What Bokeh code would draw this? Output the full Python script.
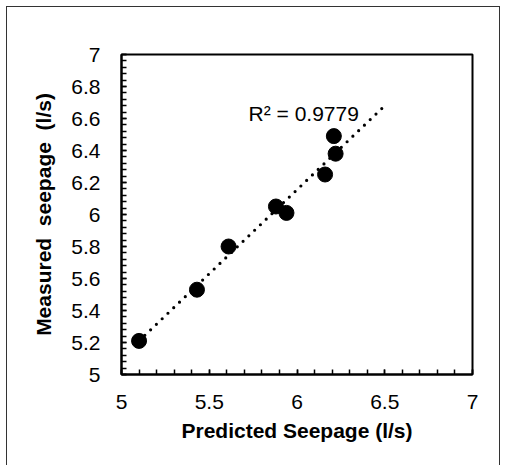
from bokeh.plotting import figure
from bokeh.models import Range1d, SingleIntervalTicker, Label
from bokeh.embed import file_html
from bokeh.resources import INLINE

# data
predicted = [5.10, 5.43, 5.61, 5.88, 5.94, 6.16, 6.22, 6.21]
measured = [5.21, 5.53, 5.80, 6.05, 6.01, 6.25, 6.38, 6.49]
trend_x = [5.10, 6.50]
trend_y = [5.21, 6.68]
r2_text = "R² = 0.9779"
x_label = "Predicted Seepage (l/s)"
y_label = "Measured \u00a0seepage \u00a0(l/s)"

FONT = "Liberation Sans"
FS = "21px"

p = figure(width=494, height=459, output_backend="svg", toolbar_location=None,
           x_range=Range1d(5, 7), y_range=Range1d(5, 7),
           min_border_left=114, min_border_top=47, min_border_right=29, min_border_bottom=92)
p.styles = {"border": "1.5px solid #333333", "border-bottom": "none",
            "margin-left": "6px", "margin-top": "6px"}
p.grid.visible = False
p.outline_line_color = "black"
p.outline_line_width = 2
p.background_fill_color = "white"
p.border_fill_color = "white"

p.line(trend_x, trend_y, line_color="black", line_width=3.2, line_dash="0 8", line_cap="round")
p.scatter(predicted, measured, size=15, color="black")

p.xaxis.ticker = SingleIntervalTicker(interval=0.5, num_minor_ticks=5)
p.yaxis.ticker = SingleIntervalTicker(interval=0.2, num_minor_ticks=5)

for ax in (p.xaxis[0], p.yaxis[0]):
    ax.axis_line_color = "black"
    ax.axis_line_width = 2
    ax.major_tick_in = 5
    ax.major_tick_out = 0
    ax.minor_tick_in = 5
    ax.minor_tick_out = 0
    ax.major_tick_line_width = 1.5
    ax.minor_tick_line_width = 1.5
    ax.major_tick_line_color = "black"
    ax.minor_tick_line_color = "black"
    ax.major_label_text_font = FONT
    ax.major_label_text_font_size = FS
    ax.major_label_text_color = "black"
    ax.axis_label_text_font = FONT
    ax.axis_label_text_font_size = FS
    ax.axis_label_text_font_style = "bold"
    ax.axis_label_text_color = "black"

p.xaxis.axis_label = x_label
p.yaxis.axis_label = y_label
p.xaxis.major_label_standoff = 20
p.yaxis.major_label_standoff = 21
p.xaxis.axis_label_standoff = 7
p.yaxis.axis_label_standoff = 13

p.add_layout(Label(x=5.724, y=6.633, text=r2_text, text_font=FONT, text_font_size=FS,
                   text_color="black", text_baseline="alphabetic"))

open("out.html", "w").write(file_html(p, INLINE))
